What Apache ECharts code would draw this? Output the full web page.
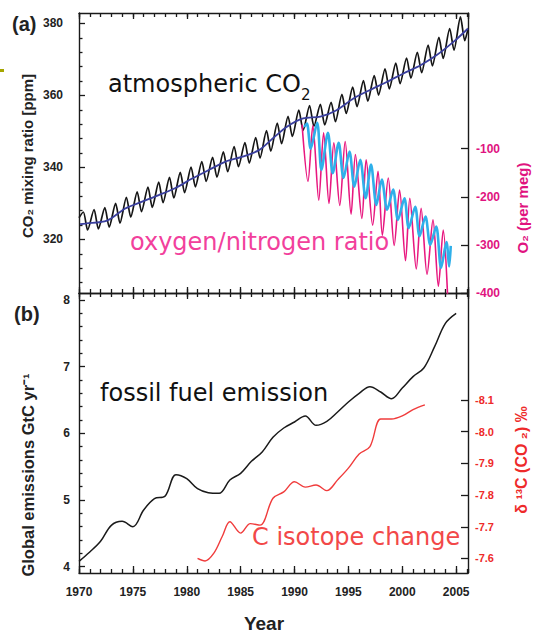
<!DOCTYPE html>
<html><head><meta charset="utf-8">
<script src="https://cdn.jsdelivr.net/npm/echarts@6/dist/echarts.min.js"></script>
<style>html,body{margin:0;padding:0;background:#fff}#c{width:533px;height:632px}</style>
</head><body><div id="c"></div><script>
// ---------- data ----------
const xTickLabels = [1970,1975,1980,1985,1990,1995,2000,2005];
// Panel (a): CO2 seasonal cycle (May maximum, October minimum of each year)
const co2Years = [1970,1971,1972,1973,1974,1975,1976,1977,1978,1979,1980,1981,1982,1983,1984,1985,1986,1987,1988,1989,1990,1991,1992,1993,1994,1995,1996,1997,1998,1999,2000,2001,2002,2003,2004,2005];
const co2Peak = [327.6,328.3,328.8,330.0,331.7,333.2,334.5,335.9,337.2,338.6,340.1,341.6,342.8,344.3,345.8,346.9,348.3,350.2,352.3,354.2,355.9,357.2,357.5,358.1,360.3,362.3,364.1,365.5,367.4,369.0,370.4,372.0,374.0,376.1,378.6,381.8];
const co2Trough = [322.6,322.9,323.4,324.5,326.2,327.7,328.9,330.2,331.5,333.0,334.6,336.1,337.3,338.8,340.2,341.2,342.6,344.5,346.6,348.6,350.3,351.4,351.8,352.7,355.0,356.9,358.4,360.1,361.8,363.3,364.8,366.3,368.2,370.3,372.6,375.2];
const co2FirstLast = [[1970.0, 326.0], [2006.1, 378.5]];
// CO2 deseasonalised trend (blue)
const trendYears = [1970.1,1970.6,1972.6,1974.3,1975.8,1977.4,1978.9,1980.5,1982.0,1983.6,1985.1,1986.7,1988.0,1989.3,1990.8,1992.4,1993.9,1995.5,1997.0,1998.6,2000.1,2001.7,2003.2,2004.8,2006.1];
const trendVals = [324.2,324.4,325.2,328.6,330.4,332.3,334.2,336.9,339.2,341.6,342.9,344.8,348.1,351.3,353.6,354.1,355.9,359.2,361.5,363.8,366.1,368.4,371.2,375.0,378.6];
// O2/N2 (per meg), magenta station
const o2mYears = [1990.7,1991.25,1991.7,1992.25,1992.7,1993.2,1993.65,1994.2,1994.7,1995.25,1995.65,1996.25,1996.65,1997.25,1997.75,1998.15,1998.7,1999.25,1999.75,2000.3,2000.7,2001.3,2001.75,2002.3,2002.85,2003.35,2003.8,2004.2];
const o2mVals = [-50,-168,-52,-207,-67,-214,-88,-218,-85,-236,-112,-245,-123,-259,-147,-280,-161,-301,-186,-333,-203,-350,-224,-361,-248,-386,-269,-402];
// O2/N2 (per meg), cyan station
const o2cYears = [1990.9,1991.15,1991.5,1992.1,1992.5,1993.1,1993.55,1994.1,1994.55,1995.1,1995.55,1996.1,1996.6,1997.1,1997.6,1998.1,1998.6,1999.15,1999.6,2000.2,2000.6,2001.2,2001.6,2002.15,2002.6,2003.15,2003.6,2004.1,2004.35,2004.5];
const o2cVals = [-55,-48,-100,-46,-144,-67,-151,-88,-161,-106,-179,-123,-203,-133,-217,-164,-227,-185,-248,-203,-265,-221,-282,-241,-300,-262,-348,-294,-345,-302];
// Panel (b): fossil fuel emission (GtC/yr)
const emYears = [1970,1971,1972,1973,1974,1975,1976,1977,1978,1979,1980,1981,1982,1983,1984,1985,1986,1987,1988,1989,1990,1991,1992,1993,1994,1995,1996,1997,1998,1999,2000,2001,2002,2003,2004,2005];
const emVals = [4.08,4.22,4.38,4.62,4.68,4.60,4.85,5.02,5.06,5.38,5.32,5.17,5.11,5.10,5.30,5.40,5.58,5.72,5.94,6.08,6.17,6.26,6.12,6.18,6.32,6.47,6.60,6.70,6.62,6.52,6.68,6.85,6.98,7.30,7.65,7.80];
// delta 13C of CO2 (permil)
const d13Years = [1981.0,1981.7,1982.5,1983.3,1984.0,1985.0,1985.9,1986.8,1988.0,1989.0,1990.0,1991.0,1992.0,1993.0,1994.0,1995.0,1996.0,1997.0,1998.0,1999.0,2000.0,2001.0,2002.1];
const d13Vals = [-7.600,-7.592,-7.616,-7.670,-7.716,-7.680,-7.710,-7.705,-7.790,-7.810,-7.842,-7.825,-7.832,-7.814,-7.848,-7.885,-7.930,-7.953,-8.040,-8.040,-8.050,-8.070,-8.085];
const co2Ticks = [320,340,360,380];
const o2Ticks = [-100,-200,-300,-400];
const emTicks = [4,5,6,7,8];
const d13Ticks = [-8.1,-8.0,-7.9,-7.8,-7.7,-7.6];

// ---------- build ----------
const MAY = 0.4, OCT = 0.8;
const co2Series = [co2FirstLast[0]];
co2Years.forEach((y, i) => { co2Series.push([y + MAY, co2Peak[i]]); co2Series.push([y + OCT, co2Trough[i]]); });
co2Series.push(co2FirstLast[1]);
const zip = (a, b) => a.map((v, i) => [v, b[i]]);

const co2Minor = []; for (let v = 308; v <= 380; v += 4) if (v % 20) co2Minor.push(v);
const emMinor = []; for (let k = 21; k <= 39; k++) if (k % 5) emMinor.push(k / 5);

const AX = '#1a1a1a';
const FF = 'Liberation Sans';
const TF = 'DejaVu Sans';
function xAx(grid, pos, interval, len, line, labels) {
  return {type:'value', gridIndex:grid, position:pos, min:1970, max:2006.1, interval:interval,
    axisLine:{show:line, onZero:false, lineStyle:{color:AX, width:1.4}},
    axisTick:{show:true, inside:true, length:len, lineStyle:{color:AX, width:1.3}},
    axisLabel: labels ? {show:true, margin:13, fontFamily:FF, fontWeight:'bold', fontSize:12, color:'#222',
      showMaxLabel:false, formatter: v => (xTickLabels.indexOf(v) >= 0 ? String(v) : '')} : {show:false},
    splitLine:{show:false}};
}
function yAx(grid, pos, min, max, ticks, len, line, label, inverse) {
  return {type:'value', gridIndex:grid, position:pos, min:min, max:max, inverse:!!inverse,
    axisLine:{show:line, onZero:false, lineStyle:{color:AX, width:1.4}},
    axisTick:{show:true, inside:true, length:len, customValues:ticks, lineStyle:{color:AX, width:1.3}},
    axisLabel: label ? Object.assign({show:true, customValues:ticks, fontFamily:FF, fontWeight:'bold'}, label) : {show:false},
    splitLine:{show:false}};
}
function txt(x, y, text, size, weight, family, color, extra, align) {
  return Object.assign({type:'text', x:x, y:y, style:{text:text, fontSize:size, fontWeight:weight, fontFamily:family, fill:color,
    align:align || 'left', textAlign:align || 'left', verticalAlign:'middle', textVerticalAlign:'middle'}}, extra || {});
}

const chart = echarts.init(document.getElementById('c'), null, {renderer:'svg'});
chart.setOption({
  animation:false,
  backgroundColor:'#fff',
  grid:[
    {left:79, right:65, top:13, height:280},
    {left:79, right:65, top:293, height:280}
  ],
  xAxis:[
    xAx(0,'bottom',5,6,true,false),
    xAx(0,'bottom',1,4,false,false),
    xAx(0,'top',5,6,true,false),
    xAx(0,'top',1,4,false,false),
    xAx(1,'bottom',5,7,true,true),
    xAx(1,'bottom',1,4,false,false),
    xAx(1,'top',5,6,true,false),
    xAx(1,'top',1,4,false,false)
  ],
  yAxis:[
    yAx(0,'left',305.1,382.9,co2Ticks,6,true,{fontSize:12, margin:16, color:'#222'}),
    yAx(0,'left',305.1,382.9,co2Minor,3.5,false,null),
    yAx(0,'right',-400,182,o2Ticks,7,true,{fontSize:12, margin:8, color:'#e0137f', formatter:v=>String(v)}),
    yAx(1,'left',3.905,8.105,emTicks,6,true,{fontSize:12, margin:9, color:'#222'}),
    yAx(1,'left',3.905,8.105,emMinor,3.5,false,null),
    yAx(1,'right',-8.438,-7.554,d13Ticks,7,true,{fontSize:11, margin:7, color:'#ee2a2a', formatter:v=>v.toFixed(1)},true)
  ],
  series:[
    {type:'line', xAxisIndex:0, yAxisIndex:0, data:co2Series, smooth:0.25, showSymbol:false, lineStyle:{color:'#151515', width:1.7}, z:3},
    {type:'line', xAxisIndex:0, yAxisIndex:0, data:zip(trendYears,trendVals), smooth:0.3, showSymbol:false, lineStyle:{color:'#3a3f9e', width:1.8}, z:4},
    {type:'line', xAxisIndex:0, yAxisIndex:2, data:zip(o2mYears,o2mVals), smooth:0.3, showSymbol:false, lineStyle:{color:'#e8177f', width:1.6}, z:5},
    {type:'line', xAxisIndex:0, yAxisIndex:2, data:zip(o2cYears,o2cVals), smooth:0.3, showSymbol:false, lineStyle:{color:'#2fb0ea', width:2.6}, z:6},
    {type:'line', xAxisIndex:4, yAxisIndex:3, data:zip(emYears,emVals), smooth:0.35, showSymbol:false, lineStyle:{color:'#1a1a1a', width:1.5}, z:3},
    {type:'line', xAxisIndex:4, yAxisIndex:5, data:zip(d13Years,d13Vals), smooth:0.35, showSymbol:false, lineStyle:{color:'#f03c3c', width:1.4}, z:3}
  ],
  graphic:[
    {type:'rect', shape:{x:0, y:69, width:4, height:3}, style:{fill:'#a6a600'}},
    txt(12, 24, '(a)', 20, 'bold', FF, '#222'),
    txt(14, 314, '(b)', 20, 'bold', FF, '#222'),
    txt(264, 623, 'Year', 19, 'bold', FF, '#222', null, 'center'),
    txt(27, 156, 'CO\u2082 mixing ratio [ppm]', 15, 'bold', FF, '#222', {rotation:Math.PI/2}, 'center'),
    txt(28, 475, 'Global emissions GtC yr\u207B\u00B9', 16.5, 'bold', FF, '#222', {rotation:Math.PI/2}, 'center'),
    txt(522, 208, 'O\u2082 (per meg)', 15, 'bold', FF, '#e0137f', {rotation:Math.PI/2}, 'center'),
    txt(521, 460, '\u03B4 \u00B9\u00B3C (CO \u2082) \u2030', 16, 'bold', FF, '#ee2a2a', {rotation:Math.PI/2}, 'center'),
    {type:'text', x:108, y:87, style:{text:'{a|atmospheric CO}{s|2}', rich:{a:{fontSize:24, fontFamily:TF, fill:'#111', lineHeight:30, verticalAlign:'top'}, s:{fontSize:15, fontFamily:TF, fill:'#111', lineHeight:15, verticalAlign:'bottom'}}, verticalAlign:'middle', textVerticalAlign:'middle'}},
    txt(130, 242, 'oxygen/nitrogen ratio', 24, 'normal', TF, '#f2409c'),
    txt(100, 393, 'fossil fuel emission', 24, 'normal', TF, '#111'),
    txt(252, 537, 'C isotope change', 24, 'normal', TF, '#f24848')
  ]
});
</script></body></html>
